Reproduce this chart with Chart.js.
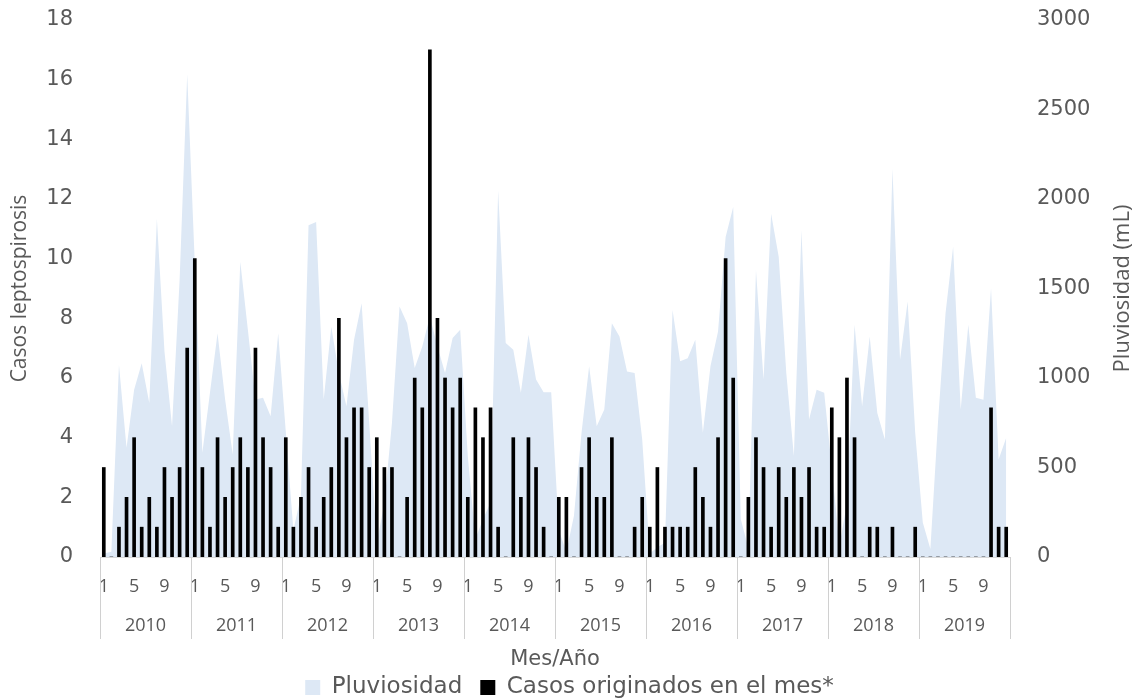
<!DOCTYPE html>
<html lang="es">
<head>
<meta charset="UTF-8">
<title>Casos de leptospirosis y pluviosidad 2010-2019</title>
<script src="https://cdn.jsdelivr.net/npm/chart.js"></script>
<style>
  body { margin: 0; background: #ffffff; }
  .wrap { width: 1139px; height: 700px; }
</style>
</head>
<body>
<div class="wrap"><canvas id="grafico"></canvas></div>
<script>
const anios = ['2010', '2011', '2012', '2013', '2014', '2015', '2016', '2017', '2018', '2019'];
const meses = ['1', '2', '3', '4', '5', '6', '7', '8', '9', '10', '11', '12'];
const mesesVisibles = ['1', '5', '9'];

// casos por mes, 12 valores por año (2010 -> 2019)
const casos = [
  3, 0, 1, 2, 4, 1, 2, 1, 3, 2, 3, 7,
  10, 3, 1, 4, 2, 3, 4, 3, 7, 4, 3, 1,
  4, 1, 2, 3, 1, 2, 3, 8, 4, 5, 5, 3,
  4, 3, 3, 0, 2, 6, 5, 17, 8, 6, 5, 6,
  2, 5, 4, 5, 1, 0, 4, 2, 4, 3, 1, 0,
  2, 2, 0, 3, 4, 2, 2, 4, 0, 0, 1, 2,
  1, 3, 1, 1, 1, 1, 3, 2, 1, 4, 10, 6,
  0, 2, 4, 3, 1, 3, 2, 3, 2, 3, 1, 1,
  5, 4, 6, 4, 0, 1, 1, 0, 1, 0, 0, 1,
  0, 0, 0, 0, 0, 0, 0, 0, 0, 5, 1, 1
];

// pluviosidad mensual (mL)
const pluviosidad = [
  20, 30, 1074, 610, 935, 1083, 860, 1890, 1150, 731, 1550, 2697,
  1640, 583, 917, 1250, 880, 573, 1650, 1269, 880, 889, 787, 1250,
  700, 150, 341, 1853, 1872, 880, 1287, 1028, 842, 1213, 1417, 750,
  80, 300, 750, 1400, 1306, 1056, 1176, 1343, 1176, 1028, 1223, 1269,
  564, 100, 211, 304, 2048, 1195, 1158, 917, 1241, 991, 920, 920,
  150, 30, 230, 694, 1065, 731, 824, 1306, 1232, 1037, 1028, 657,
  20, 54, 80, 1380, 1093, 1111, 1213, 694, 1065, 1260, 1788, 1955,
  211, 50, 1603, 991, 1918, 1677, 1028, 564, 1826, 768, 935, 917,
  500, 63, 300, 1297, 842, 1232, 805, 657, 2169, 1102, 1427, 694,
  193, 45, 750, 1362, 1733, 824, 1297, 889, 879, 1501, 545, 666
];

const etiquetas = [];
anios.forEach(a => meses.forEach(m => etiquetas.push(m)));

const gris = '#595959';
const fuente = "'Open Sans', sans-serif";
const fuenteAncha = "'DejaVu Sans', sans-serif";

// años bajo los meses, separadores y título del eje derecho
const ejeAnios = {
  id: 'ejeAnios',
  afterDraw(chart) {
    const ctx = chart.ctx;
    const x = chart.scales.x;
    const base = x.top;
    ctx.save();
    ctx.strokeStyle = '#d0d0d0';
    ctx.lineWidth = 1;
    for (let k = 0; k <= anios.length; k++) {
      let px;
      if (k === 0) px = x.left;
      else if (k === anios.length) px = x.right;
      else px = (x.getPixelForValue(12 * k - 1) + x.getPixelForValue(12 * k)) / 2;
      px = Math.round(px) + 0.5;
      ctx.beginPath();
      ctx.moveTo(px, base);
      ctx.lineTo(px, base + 82);
      ctx.stroke();
    }
    ctx.fillStyle = gris;
    ctx.font = '18px ' + fuente;
    ctx.textAlign = 'center';
    ctx.textBaseline = 'middle';
    anios.forEach((a, k) => {
      const cx = (x.getPixelForValue(12 * k) + x.getPixelForValue(12 * k + 11)) / 2;
      ctx.fillText(a, cx, base + 69);
    });

    const area = chart.chartArea;
    ctx.translate(1123, (area.top + area.bottom) / 2);
    ctx.rotate(-Math.PI / 2);
    ctx.font = '22px ' + fuente;
    ctx.fillText('Pluviosidad (mL)', 0, 0);
    ctx.restore();
  }
};

// el padding de las etiquetas no debe empujar el área del gráfico
const recortarPadding = s => { s.paddingTop = 11; s.paddingBottom = 11; };

new Chart(document.getElementById('grafico'), {
  data: {
    labels: etiquetas,
    datasets: [
      {
        type: 'line',
        label: 'Pluviosidad',
        data: pluviosidad,
        yAxisID: 'y1',
        backgroundColor: '#dde8f5',
        borderColor: '#dde8f5',
        borderWidth: 0,
        fill: 'origin',
        pointRadius: 0,
        tension: 0,
        order: 2
      },
      {
        type: 'bar',
        label: 'Casos originados en el mes*',
        data: casos,
        yAxisID: 'y',
        backgroundColor: '#000000',
        borderWidth: 0,
        barThickness: 3,
        order: 1
      }
    ]
  },
  options: {
    responsive: true,
    maintainAspectRatio: false,
    animation: false,
    layout: { padding: { top: 20, bottom: -9, left: 0, right: 0 } },
    plugins: {
      legend: {
        position: 'bottom',
        labels: {
          boxWidth: 15,
          boxHeight: 15,
          padding: 18,
          color: gris,
          font: { family: fuenteAncha, size: 23 },
          sort: (a, b) => a.datasetIndex - b.datasetIndex
        }
      },
      tooltip: { enabled: false }
    },
    scales: {
      x: {
        grid: { display: false, drawTicks: false },
        border: { display: true, color: '#d9d9d9', width: 1 },
        ticks: {
          autoSkip: false,
          maxRotation: 0,
          padding: 19,
          color: gris,
          font: { family: fuente, size: 18 },
          callback: function (v) {
            const t = this.getLabelForValue(v);
            return mesesVisibles.includes(t) ? t : '';
          }
        },
        title: {
          display: true,
          text: 'Mes/Año',
          color: gris,
          font: { family: fuenteAncha, size: 21 },
          padding: { top: 0, bottom: -14 }
        },
        afterFit: s => { s.height = 101; }
      },
      y: {
        position: 'left',
        min: 0,
        max: 18,
        ticks: {
          stepSize: 2,
          padding: 27,
          color: gris,
          font: { family: fuenteAncha, size: 21 }
        },
        grid: { display: false, drawTicks: false },
        border: { display: false },
        title: {
          display: true,
          text: 'Casos leptospirosis',
          color: gris,
          font: { family: fuente, size: 21 },
          padding: 7
        },
        afterFit: s => { s.width = 100; recortarPadding(s); }
      },
      y1: {
        position: 'right',
        min: 0,
        max: 3000,
        ticks: {
          stepSize: 500,
          padding: 27,
          color: gris,
          font: { family: fuenteAncha, size: 21 },
          callback: v => String(v)
        },
        grid: { display: false, drawTicks: false },
        border: { display: false },
        afterFit: s => { s.width = 129; recortarPadding(s); }
      }
    }
  },
  plugins: [ejeAnios]
});
</script>
</body>
</html>
